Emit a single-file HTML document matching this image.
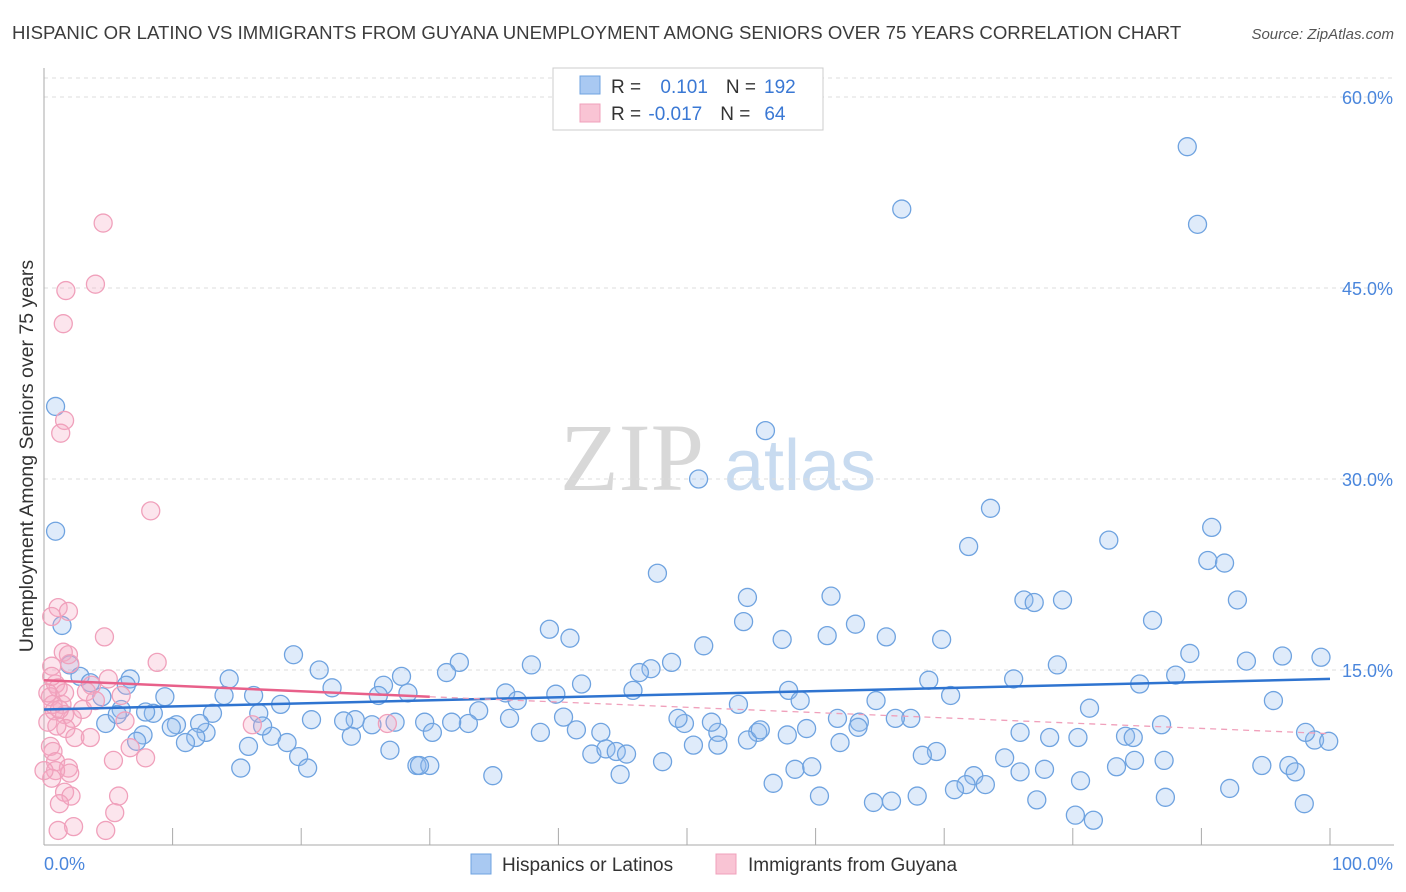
<!DOCTYPE html>
<html><head><meta charset="utf-8">
<style>
body{margin:0;background:#fff;font-family:"Liberation Sans",sans-serif;}
svg{display:block}
</style></head>
<body>
<svg id="chart" width="1406" height="892" xmlns="http://www.w3.org/2000/svg">
<text x="12" y="39" font-size="18.6" fill="#3c3c3c">HISPANIC OR LATINO VS IMMIGRANTS FROM GUYANA UNEMPLOYMENT AMONG SENIORS OVER 75 YEARS CORRELATION CHART</text>
<text x="1394" y="39" font-size="15" fill="#555" font-style="italic" text-anchor="end">Source: ZipAtlas.com</text>
<g>
<text x="632" y="490" font-size="96" fill="#d8d8d8" text-anchor="middle" font-family="Liberation Serif,serif">ZIP</text>
<text x="800" y="490" font-size="72" fill="#c8dbf0" text-anchor="middle">atlas</text>
</g>
<g id="grid"></g>
<g id="axes"></g>
<g id="marks"></g>
<text transform="translate(33,456) rotate(-90)" font-size="19.5" fill="#333" text-anchor="middle">Unemployment Among Seniors over 75 years</text>
<g>
<rect x="553" y="68" width="270" height="62" fill="#fff" stroke="#ccc"/>
<rect x="580" y="76" width="20" height="18" fill="#a9c9f2" stroke="#6fa3e0"/>
<rect x="580" y="104" width="20" height="18" fill="#f9c4d4" stroke="#f0a0bb"/>
<text x="611" y="93" font-size="19" fill="#333">R = <tspan fill="#3a78d4" dx="14">0.101</tspan><tspan dx="18" fill="#333">N =</tspan><tspan dx="8" fill="#3a78d4">192</tspan></text>
<text x="611" y="120" font-size="19" fill="#333">R = <tspan fill="#3a78d4" dx="2">-0.017</tspan><tspan dx="18" fill="#333">N =</tspan><tspan dx="14" fill="#3a78d4">64</tspan></text>
</g>
<g>
<rect x="471" y="854" width="20" height="20" fill="#a9c9f2" stroke="#6fa3e0"/>
<text x="502" y="871" font-size="19" fill="#333">Hispanics or Latinos</text>
<rect x="716" y="854" width="20" height="20" fill="#f9c4d4" stroke="#f0a0bb"/>
<text x="748" y="871" font-size="19" fill="#333">Immigrants from Guyana</text>
</g>
</svg>
<script>
const yTicks=[15,30,45,60];
const yTickLabels=["15.0%","30.0%","45.0%","60.0%"];
const xTicks=[0,10,20,30,40,50,60,70,80,90,100];
const blueX=[88.9,66.7,89.7,56.1,50.9,73.6,90.8,71.9,82.8,90.5,91.8,47.7,54.7,61.2,92.8,76.2,77.0,79.2,86.2,63.1,54.4,39.3,40.9,60.9,65.5,69.8,57.4,51.3,89.1,93.5,96.3,99.3,78.8,48.8,47.2,46.3,37.9,32.3,31.3,27.8,19.4,21.4,14.4,6.7,6.4,2.0,2.8,3.6,4.5,41.8,45.8,68.8,75.4,85.2,88.0,57.9,70.5,64.7,58.8,54.0,35.9,36.8,39.8,33.8,26.4,26.0,28.3,22.4,16.3,9.4,14.0,13.1,8.5,16.7,18.4,0.9,0.9,1.4,95.6,81.3,75.9,86.9,84.1,78.2,67.4,66.2,63.4,61.7,63.3,59.3,55.5,52.4,51.9,49.8,49.3,43.3,40.4,41.4,38.6,36.2,33.0,31.7,29.6,30.2,27.3,25.5,24.2,23.9,23.3,20.8,17.7,17.0,12.6,10.3,12.1,11.8,11.0,9.9,7.7,7.9,6.0,4.8,5.7,7.2,15.9,18.9,19.8,26.9,29.0,30.0,42.6,43.7,44.5,45.3,48.1,50.5,52.4,54.7,55.7,57.8,61.9,69.4,68.3,74.7,80.4,84.7,87.1,96.8,98.8,99.9,98.1,15.3,20.5,29.2,34.9,44.8,56.7,58.4,59.7,72.3,71.7,75.9,77.8,80.6,83.4,84.8,94.7,97.3,92.2,87.2,77.2,80.2,81.6,73.2,67.9,65.9,64.5,60.3,70.8,98.0];
const blueY=[56.1,51.2,50.0,33.8,30.0,27.7,26.2,24.7,25.2,23.6,23.4,22.6,20.7,20.8,20.5,20.5,20.3,20.5,18.9,18.6,18.8,18.2,17.5,17.7,17.6,17.4,17.4,16.9,16.3,15.7,16.1,16.0,15.4,15.6,15.1,14.8,15.4,15.6,14.8,14.5,16.2,15.0,14.3,14.3,13.8,15.4,14.5,14.0,12.9,13.9,13.4,14.2,14.3,13.9,14.6,13.4,13.0,12.6,12.6,12.3,13.2,12.6,13.1,11.8,13.8,13.0,13.2,13.6,13.0,12.9,13.0,11.6,11.6,11.6,12.3,35.7,25.9,18.5,12.6,12.0,10.1,10.7,9.8,9.7,11.2,11.2,10.9,11.2,10.5,10.4,10.1,10.1,10.9,10.8,11.2,10.1,11.3,10.3,10.1,11.2,10.8,10.9,10.9,10.1,10.9,10.7,11.1,9.8,11.0,11.1,9.8,10.6,10.1,10.7,10.8,9.7,9.3,10.5,9.9,11.7,11.9,10.8,11.5,9.4,9.0,9.3,8.2,8.7,7.5,7.5,8.4,8.8,8.6,8.4,7.8,9.1,9.1,9.5,10.3,9.9,9.3,8.6,8.3,8.1,9.7,9.7,7.9,7.5,9.5,9.4,10.1,7.3,7.3,7.5,6.7,6.8,6.1,7.2,7.4,6.7,6.0,7.0,7.2,6.3,7.4,7.9,7.5,7.0,5.7,5.0,4.8,3.6,3.2,6.0,5.1,4.7,4.6,5.1,5.6,4.5];
const pinkX=[4.6,4.0,1.7,1.5,1.6,1.3,8.3,1.1,1.9,0.6,4.7,1.5,8.8,2.0,0.6,5.0,0.9,1.1,0.5,1.4,0.8,1.6,2.2,0.3,6.3,3.0,3.7,1.6,0.7,1.2,26.7,6.0,16.2,1.7,2.4,3.6,6.7,0.5,0.7,7.9,5.4,0.9,1.9,2.0,0.9,0.6,0.0,1.6,2.1,1.2,5.8,5.5,2.3,4.8,1.1,0.3,4.0,1.9,0.6,1.0,3.3];
const pinkY=[50.1,45.3,44.8,42.2,34.6,33.6,27.5,19.9,19.6,19.2,17.6,16.4,15.6,15.5,15.3,14.3,13.9,13.6,12.9,12.3,11.8,11.5,11.2,10.9,11.0,11.9,13.8,13.2,12.3,11.9,10.8,13.0,10.7,10.4,9.7,9.7,8.9,9.0,8.6,8.1,7.9,7.8,7.3,6.9,7.1,6.5,7.1,5.4,5.1,4.5,5.1,3.8,2.7,2.4,2.4,13.2,12.6,16.2,14.5,10.6,13.3];
const blueTrend=[11.9,14.3];     // y at x=0, x=100
const pinkTrend=[14.2,12.9,10.0]; // y at x=0, x=30, x=100
const NS="http://www.w3.org/2000/svg";
const X0=44,X1=1330,YB=861,PX=12.733;
function sx(v){return X0+(X1-X0)*v/100;}
function sy(v){return YB-v*PX;}
function mk(tag,attrs,parent){const e=document.createElementNS(NS,tag);for(const k in attrs)e.setAttribute(k,attrs[k]);parent.appendChild(e);return e;}
const grid=document.getElementById('grid'),axes=document.getElementById('axes'),marks=document.getElementById('marks');
yTicks.forEach((t,i)=>{
 const l=mk('line',{x1:44,x2:1394,y1:sy(t),y2:sy(t),stroke:'#ddd','stroke-dasharray':'4,4'},grid);
 
 
 const tx=mk('text',{x:1393,y:sy(t)+7,'font-size':18,fill:'#4a86dc','text-anchor':'end'},axes);
 tx.textContent=yTickLabels[i];
 
 
});
const topg=mk('line',{x1:44,x2:1394,y1:78,y2:78,stroke:'#ddd','stroke-dasharray':'4,4'},grid);


const ya=mk('line',{x1:44,x2:44,y1:68,y2:845,stroke:'#aaa'},axes);


const xa=mk('line',{x1:44,x2:1394,y1:845,y2:845,stroke:'#aaa'},axes);


xTicks.forEach(t=>{
 const l=mk('line',{x1:sx(t),x2:sx(t),y1:828,y2:845,stroke:'#aaa'},axes);
 
 
});
const xl0=mk('text',{x:44,y:870,'font-size':18,fill:'#4a86dc'},axes);xl0.textContent='0.0%';


const xl1=mk('text',{x:1393,y:870,'font-size':18,fill:'#4a86dc','text-anchor':'end'},axes);xl1.textContent='100.0%';


blueX.forEach((v,i)=>{
 const c=mk('circle',{cx:sx(v),cy:sy(blueY[i]),r:9,fill:'rgba(150,190,240,0.3)',stroke:'#6fa3e0','stroke-width':1.3},marks);
 
 
});
pinkX.forEach((v,i)=>{
 const c=mk('circle',{cx:sx(v),cy:sy(pinkY[i]),r:9,fill:'rgba(245,170,195,0.3)',stroke:'#f0a0bb','stroke-width':1.3},marks);
 
 
});
const bl=mk('line',{x1:sx(0),y1:sy(blueTrend[0]),x2:sx(100),y2:sy(blueTrend[1]),stroke:'#2f74d0','stroke-width':2.5},marks);


const pl=mk('line',{x1:sx(0),y1:sy(pinkTrend[0]),x2:sx(30),y2:sy(pinkTrend[1]),stroke:'#e8608a','stroke-width':2.5},marks);


const pd=mk('line',{x1:sx(30),y1:sy(pinkTrend[1]),x2:sx(100),y2:sy(pinkTrend[2]),stroke:'#f0a0bb','stroke-width':1.3,'stroke-dasharray':'6,5'},marks);


</script>
</body></html>
